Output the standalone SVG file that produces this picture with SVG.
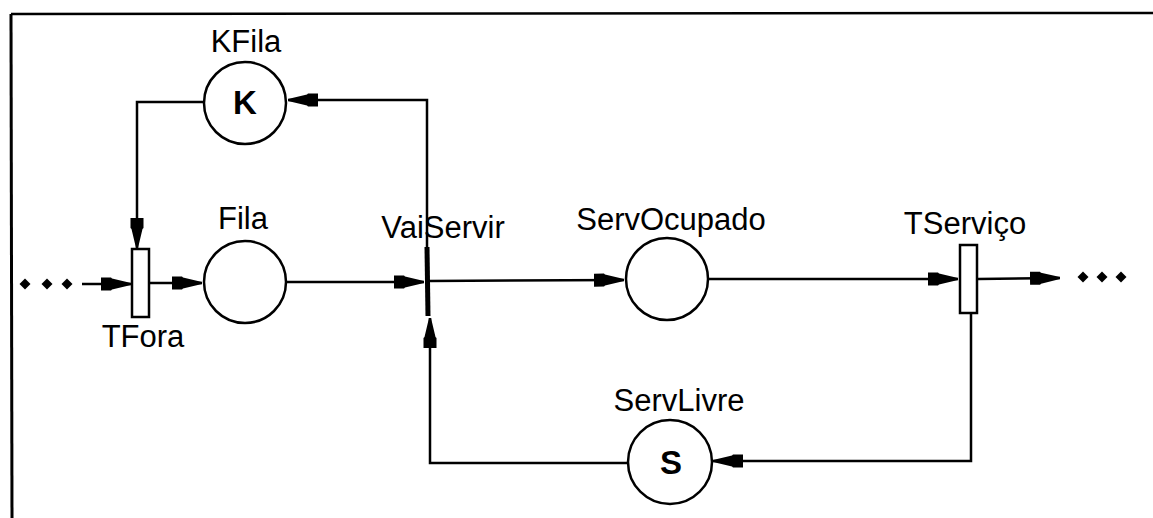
<svg xmlns="http://www.w3.org/2000/svg" width="1153" height="518" viewBox="0 0 1153 518">
<style>
.lbl{font-family:"Liberation Sans",Arial,sans-serif;font-size:31px;fill:#000;text-anchor:middle}
.tok{font-family:"Liberation Sans",Arial,sans-serif;font-size:33px;font-weight:bold;fill:#000;text-anchor:middle}
.place{fill:#fff;stroke:#000;stroke-width:2.5}
.trans{fill:#fff;stroke:#000;stroke-width:2.5}
.arc{fill:none;stroke:#000;stroke-width:2.5;marker-end:url(#ah)}
.dot{fill:#000}
</style>
<defs>
<marker id="ah" markerUnits="userSpaceOnUse" viewBox="0 -7 30 14" refX="30" refY="0" markerWidth="30" markerHeight="14" orient="auto">
<path d="M0,-6.5 L10,-6.5 L11,-5.5 L30,-1 L30,1 L11,5.5 L10,6.5 L0,6.5 Z" fill="#000"/>
</marker>
<path id="dia" d="M0,-5.5 L5.5,0 L0,5.5 L-5.5,0 Z"/>
</defs>
<rect x="0" y="0" width="1153" height="518" fill="#fff"/>
<g id="frame">
<line x1="11" y1="14" x2="1153" y2="13" stroke="#000" stroke-width="2.5"/>
<line x1="11" y1="14" x2="12" y2="518" stroke="#000" stroke-width="3"/>
</g>
<g id="connectors">
<line class="arc" x1="82" y1="284" x2="131" y2="284"/>
<line class="arc" x1="150" y1="283" x2="202" y2="283"/>
<line class="arc" x1="287" y1="282" x2="424" y2="282"/>
<line class="arc" x1="429" y1="281" x2="624" y2="280"/>
<line class="arc" x1="708" y1="279" x2="958" y2="279"/>
<line class="arc" x1="978" y1="279" x2="1060" y2="278"/>
<polyline class="arc" points="204,102 137,102 137,248"/>
<polyline class="arc" points="427,247 427,100 288,100"/>
<polyline class="arc" points="628,463 430,463 430,318"/>
<polyline class="arc" points="971,313 971,461 713,461"/>
<line x1="427" y1="247" x2="428" y2="316" stroke="#000" stroke-width="5"/>
</g>
<g id="dots-left" class="dot">
<use href="#dia" x="25" y="284"/>
<use href="#dia" x="47" y="284"/>
<use href="#dia" x="67" y="284"/>
</g>
<g id="dots-right" class="dot">
<use href="#dia" x="1083" y="277"/>
<use href="#dia" x="1102" y="277"/>
<use href="#dia" x="1121" y="277"/>
</g>
<g id="KFila">
<circle class="place" cx="245" cy="103" r="41"/>
<text class="tok" x="245" y="114">K</text>
<text class="lbl" x="246" y="52">KFila</text>
</g>
<g id="Fila">
<circle class="place" cx="245" cy="282" r="41"/>
<text class="lbl" x="243" y="229">Fila</text>
</g>
<g id="TFora">
<rect class="trans" x="132" y="249" width="17" height="68"/>
<text class="lbl" x="143" y="347">TFora</text>
</g>
<g id="VaiServir">
<text class="lbl" x="443" y="238">VaiServir</text>
</g>
<g id="ServOcupado">
<circle class="place" cx="667" cy="279" r="41"/>
<text class="lbl" x="671" y="230">ServOcupado</text>
</g>
<g id="TServico">
<rect class="trans" x="960" y="245" width="17" height="68"/>
<text class="lbl" x="965" y="234">TServiço</text>
</g>
<g id="ServLivre">
<circle class="place" cx="670" cy="462" r="42"/>
<text class="tok" x="671" y="474">S</text>
<text class="lbl" x="679" y="411">ServLivre</text>
</g>
</svg>
